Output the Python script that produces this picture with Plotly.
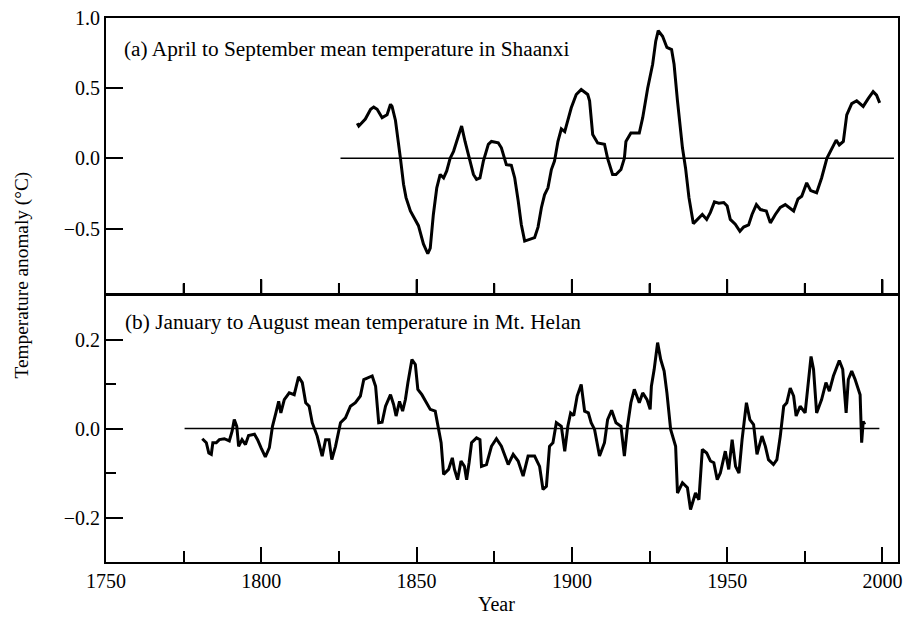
import plotly.graph_objects as go

# ---- Data: (a) April-September mean temperature anomaly, Shaanxi ----
years_a = [1830.9, 1831.4, 1833.5, 1835.2, 1836.2, 1837.3, 1838.9, 1840.5, 1841.6, 1842.1,
           1843.2, 1844.2, 1844.8, 1845.8, 1846.6, 1848.0, 1849.6, 1850.6, 1852.2, 1853.6,
           1854.4, 1855.4, 1856.5, 1857.6, 1858.7, 1859.7, 1860.8, 1861.9, 1862.9, 1864.5,
           1865.6, 1867.2, 1868.3, 1869.3, 1870.4, 1871.5, 1873.1, 1874.1, 1876.3, 1877.3,
           1878.4, 1878.9, 1880.5, 1881.6, 1882.7, 1883.7, 1884.8, 1886.4, 1888.0, 1889.1,
           1890.2, 1891.2, 1892.3, 1893.4, 1894.4, 1895.5, 1896.6, 1897.7, 1898.7, 1899.8,
           1901.4, 1903.0, 1905.1, 1905.7, 1906.7, 1908.3, 1910.5, 1911.5, 1913.1, 1914.2,
           1915.8, 1916.9, 1917.4, 1919.0, 1921.7, 1922.8, 1924.4, 1926.0, 1927.0, 1927.8,
           1929.2, 1930.6, 1932.1, 1932.9, 1934.0, 1935.6, 1936.6, 1937.7, 1939.1, 1940.4,
           1942.0, 1943.4, 1944.6, 1945.9, 1947.3, 1948.9, 1950.0, 1951.0, 1952.6, 1954.1,
           1955.3, 1956.9, 1958.0, 1959.4, 1960.7, 1962.6, 1963.9, 1965.5, 1967.1, 1968.7,
           1970.3, 1971.4, 1972.8, 1974.0, 1975.6, 1976.9, 1978.8, 1980.4, 1982.1, 1983.7,
           1985.1, 1986.1, 1987.4, 1988.5, 1990.1, 1991.7, 1993.8, 1995.4, 1997.0, 1998.1,
           1999.1]
temp_a = [0.25, 0.23, 0.28, 0.35, 0.365, 0.35, 0.29, 0.31, 0.385, 0.37,
          0.27, 0.12, 0.0, -0.185, -0.28, -0.375, -0.435, -0.48, -0.61, -0.68,
          -0.64, -0.40, -0.21, -0.115, -0.14, -0.09, 0.0, 0.05, 0.12, 0.23,
          0.12, -0.02, -0.115, -0.15, -0.14, -0.02, 0.10, 0.12, 0.11, 0.075,
          0.0, -0.045, -0.05, -0.14, -0.30, -0.47, -0.59, -0.58, -0.565, -0.49,
          -0.35, -0.26, -0.21, -0.08, -0.02, 0.12, 0.21, 0.19, 0.27, 0.36,
          0.455, 0.49, 0.455, 0.41, 0.17, 0.11, 0.10, 0.0, -0.115, -0.115,
          -0.08, 0.0, 0.12, 0.18, 0.18, 0.29, 0.50, 0.67, 0.835, 0.91,
          0.87, 0.79, 0.775, 0.67, 0.41, 0.075, -0.07, -0.28, -0.465, -0.435,
          -0.40, -0.435, -0.385, -0.31, -0.32, -0.315, -0.34, -0.435, -0.47, -0.52,
          -0.49, -0.475, -0.40, -0.33, -0.365, -0.375, -0.46, -0.40, -0.35, -0.33,
          -0.355, -0.375, -0.29, -0.27, -0.175, -0.23, -0.245, -0.14, 0.0, 0.075,
          0.13, 0.095, 0.12, 0.31, 0.39, 0.41, 0.37, 0.425, 0.475, 0.45,
          0.395]

# ---- Data: (b) January-August mean temperature anomaly, Mt. Helan ----
years_b = [1781.0, 1782.3, 1783.1, 1783.9, 1784.4, 1785.5, 1786.5, 1788.1, 1789.7, 1790.6,
           1791.3, 1792.1, 1792.7, 1793.8, 1794.9, 1795.9, 1797.8, 1798.8, 1799.9, 1801.3,
           1802.6, 1803.6, 1804.7, 1805.6, 1806.3, 1807.4, 1809.0, 1810.6, 1812.0, 1813.2,
           1814.3, 1815.4, 1816.4, 1818.0, 1819.6, 1820.7, 1821.8, 1822.7, 1823.9, 1825.5,
           1827.1, 1828.7, 1830.3, 1831.9, 1833.0, 1834.6, 1835.7, 1836.8, 1837.8, 1838.9,
           1840.0, 1841.6, 1842.6, 1843.4, 1844.5, 1845.5, 1846.4, 1847.2, 1848.5, 1849.6,
           1850.4, 1851.7, 1853.3, 1854.4, 1856.0, 1856.8, 1857.9, 1858.7, 1860.3, 1861.5,
           1862.2, 1863.2, 1864.3, 1865.4, 1866.1, 1866.9, 1867.7, 1869.3, 1870.4, 1870.9,
           1872.5, 1874.1, 1875.7, 1877.3, 1879.5, 1881.1, 1882.7, 1884.3, 1885.9, 1888.0,
           1889.6, 1890.7, 1891.8, 1892.8, 1893.9, 1895.0, 1896.6, 1897.7, 1898.7, 1899.6,
           1900.6, 1901.7, 1903.0, 1904.1, 1905.3, 1906.2, 1907.3, 1908.9, 1910.5, 1911.5,
           1912.8, 1914.2, 1915.8, 1916.9, 1917.9, 1919.0, 1920.1, 1921.7, 1922.8, 1924.2,
           1925.2, 1925.6, 1926.5, 1927.6, 1928.6, 1929.7, 1930.6, 1931.8, 1933.4, 1934.0,
           1935.6, 1937.2, 1938.2, 1939.8, 1940.9, 1942.0, 1943.4, 1944.6, 1945.7, 1946.8,
           1947.8, 1949.4, 1950.5, 1951.6, 1952.7, 1953.8, 1954.8, 1956.2, 1957.3, 1958.5,
           1959.6, 1961.2, 1962.3, 1963.3, 1964.9, 1966.0, 1967.1, 1968.2, 1969.2, 1970.3,
           1971.4, 1972.2, 1973.5, 1975.1, 1976.2, 1977.0, 1977.8, 1978.8, 1980.4, 1981.8,
           1982.9, 1984.2, 1986.1, 1987.2, 1988.3, 1989.0, 1990.1, 1991.2, 1992.8, 1993.3,
           1993.8, 1994.3]
temp_b = [-0.023, -0.032, -0.055, -0.058, -0.032, -0.032, -0.025, -0.023, -0.028, -0.006,
          0.020, 0.005, -0.040, -0.025, -0.036, -0.016, -0.013, -0.025, -0.043, -0.064,
          -0.043, 0.005, 0.035, 0.061, 0.035, 0.065, 0.080, 0.076, 0.116, 0.103,
          0.058, 0.050, 0.013, -0.017, -0.062, -0.025, -0.025, -0.070, -0.040, 0.013,
          0.024, 0.050, 0.058, 0.073, 0.110, 0.114, 0.118, 0.095, 0.013, 0.014,
          0.050, 0.076, 0.054, 0.028, 0.061, 0.039, 0.065, 0.103, 0.155, 0.144,
          0.088, 0.076, 0.058, 0.043, 0.039, 0.005, -0.032, -0.103, -0.092, -0.066,
          -0.092, -0.115, -0.073, -0.085, -0.115, -0.077, -0.032, -0.021, -0.025, -0.085,
          -0.081, -0.040, -0.023, -0.040, -0.081, -0.058, -0.073, -0.107, -0.062, -0.062,
          -0.085, -0.137, -0.130, -0.040, -0.032, 0.013, 0.005, -0.051, 0.005, 0.035,
          0.029, 0.073, 0.099, 0.039, 0.035, 0.013, -0.002, -0.062, -0.032, 0.020,
          0.041, 0.013, 0.005, -0.062, 0.005, 0.058, 0.088, 0.058, 0.080, 0.065,
          0.043, 0.095, 0.133, 0.193, 0.155, 0.129, 0.080, -0.002, -0.040, -0.145,
          -0.122, -0.133, -0.182, -0.145, -0.160, -0.047, -0.055, -0.073, -0.077, -0.115,
          -0.100, -0.051, -0.092, -0.025, -0.085, -0.100, -0.025, 0.058, 0.020, 0.009,
          -0.058, -0.017, -0.040, -0.070, -0.081, -0.070, -0.017, 0.050, 0.058, 0.091,
          0.073, 0.028, 0.050, 0.035, 0.110, 0.162, 0.133, 0.035, 0.065, 0.103,
          0.084, 0.118, 0.153, 0.133, 0.035, 0.110, 0.129, 0.110, 0.076, -0.032,
          0.016, 0.009]

# Reference (zero) line extents
zero_span_a = [1825.5, 2003.7]
zero_span_b = [1775.3, 1999.0]

# Axis ticks
x_range = [1750, 2005]
x_ticks = [1750, 1800, 1850, 1900, 1950, 2000]
x_minor = [1775, 1825, 1875, 1925, 1975]
ya_range = [-0.97, 1.0]
ya_ticks = [-0.5, 0.0, 0.5, 1.0]
ya_labels = ["\u22120.5", "0.0", "0.5", "1.0"]
yb_range = [-0.3, 0.3]
yb_ticks = [-0.2, 0.0, 0.2]
yb_labels = ["\u22120.2", "0.0", "0.2"]
yb_minor = [-0.1, 0.1]

label_a = "(a) April to September mean temperature in Shaanxi"
label_b = "(b) January to August mean temperature in Mt. Helan"

FONT = "Liberation Serif, Times New Roman, serif"
SPLIT = 267 / 544  # bottom panel share of plot height
PLOT_H = 544       # plot area height in px
TOP_H = PLOT_H * (1 - SPLIT - 0.001)
UNIT_PER_PX_A = (ya_range[1] - ya_range[0]) / TOP_H

fig = go.Figure()

fig.add_trace(go.Scatter(x=zero_span_a, y=[0, 0], mode="lines", xaxis="x2", yaxis="y2",
                         line=dict(color="black", width=1.5), showlegend=False))
fig.add_trace(go.Scatter(x=years_a, y=temp_a, mode="lines", xaxis="x2", yaxis="y2",
                         line=dict(color="black", width=3), showlegend=False))
fig.add_trace(go.Scatter(x=zero_span_b, y=[0, 0], mode="lines", xaxis="x", yaxis="y",
                         line=dict(color="black", width=1.5), showlegend=False))
fig.add_trace(go.Scatter(x=years_b, y=temp_b, mode="lines", xaxis="x", yaxis="y",
                         line=dict(color="black", width=3), showlegend=False))

# Year ticks along the lower edge of panel (a), pointing up (built from the tick lists)
tick_x, tick_y = [], []
for vals, length_px in ((x_ticks[1:], 15), (x_minor, 11)):
    for t in vals:
        tick_x += [t, t, None]
        tick_y += [ya_range[0], ya_range[0] + length_px * UNIT_PER_PX_A, None]
fig.add_trace(go.Scatter(x=tick_x, y=tick_y, mode="lines", xaxis="x2", yaxis="y2",
                         line=dict(color="black", width=2), showlegend=False,
                         hoverinfo="skip", cliponaxis=False))

tick_style = dict(tickwidth=2, tickcolor="black")
xcommon = dict(range=x_range, tickmode="array", tickvals=x_ticks,
               showgrid=False, zeroline=False, domain=[0, 1])
ycommon = dict(ticks="inside", ticklen=17, tickwidth=2, tickcolor="black",
               showline=True, linewidth=2, linecolor="black", mirror=True,
               showgrid=False, zeroline=False, tickmode="array",
               tickfont=dict(family=FONT, size=20, color="black"))

fig.update_layout(
    xaxis=dict(**xcommon, **tick_style, anchor="y", showticklabels=True,
               ticks="inside", ticklen=15,
               showline=True, linewidth=2, linecolor="black", mirror=True,
               minor=dict(tickvals=x_minor, ticks="inside", ticklen=11,
                          tickwidth=2, tickcolor="black", showgrid=False),
               tickfont=dict(family=FONT, size=20, color="black")),
    xaxis2=dict(**xcommon, **tick_style, anchor="y2", showticklabels=False,
                ticks="inside", ticklen=15,
                showline=True, linewidth=2, linecolor="black", mirror=True,
                minor=dict(tickvals=x_minor, ticks="inside", ticklen=11,
                           tickwidth=2, tickcolor="black", showgrid=False)),
    yaxis=dict(**ycommon, anchor="x", domain=[0, SPLIT], range=yb_range,
               tickvals=yb_ticks, ticktext=yb_labels,
               minor=dict(tickvals=yb_minor, ticks="inside", ticklen=10,
                          tickwidth=2, tickcolor="black", showgrid=False)),
    yaxis2=dict(**ycommon, anchor="x2", domain=[SPLIT + 0.001, 1], range=ya_range,
                tickvals=ya_ticks, ticktext=ya_labels),
)

fig.add_annotation(text=label_a, xref="paper", yref="paper", x=(122 - 106) / 796,
                   y=(562 - 49) / 544, xanchor="left", yanchor="middle", showarrow=False,
                   font=dict(family=FONT, size=21.3, color="black"))
fig.add_annotation(text=label_b, xref="paper", yref="paper", x=(123 - 106) / 796,
                   y=(562 - 322) / 544, xanchor="left", yanchor="middle", showarrow=False,
                   font=dict(family=FONT, size=21.3, color="black"))
fig.add_annotation(text="Temperature anomaly (°C)", xref="paper", yref="paper",
                   x=(22 - 106) / 796, y=(562 - 275) / 544, xanchor="center",
                   yanchor="middle", textangle=-90, showarrow=False,
                   font=dict(family=FONT, size=19.3, color="black"))
fig.add_annotation(text="Year", xref="paper", yref="paper",
                   x=(498 - 106) / 796, y=(562 - 604) / 544, xanchor="center",
                   yanchor="middle", showarrow=False,
                   font=dict(family=FONT, size=20, color="black"))

fig.update_layout(width=909, height=617, margin=dict(l=106, r=7, t=18, b=55),
                  paper_bgcolor="white", plot_bgcolor="rgba(0,0,0,0)",
                  font=dict(family=FONT, size=20, color="black"))

fig.write_html("out.html")
